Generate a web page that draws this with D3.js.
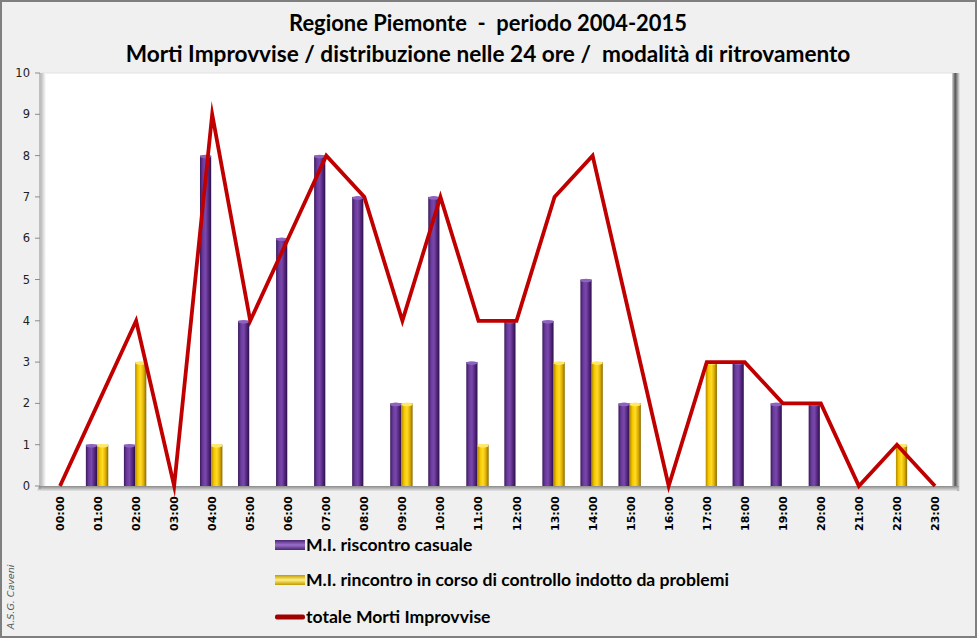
<!DOCTYPE html>
<html><head><meta charset="utf-8">
<script src="https://cdn.jsdelivr.net/npm/d3@7"></script>
<style>html,body{margin:0;padding:0;background:#fff;}svg{display:block;}</style>
</head><body>
<svg id="c" width="977" height="638"></svg>
<script>
const hours = ["00:00","01:00","02:00","03:00","04:00","05:00","06:00","07:00","08:00","09:00","10:00","11:00","12:00","13:00","14:00","15:00","16:00","17:00","18:00","19:00","20:00","21:00","22:00","23:00"];
const casuale = [0,1,1,0,8,4,6,8,7,2,7,3,4,4,5,2,0,0,3,2,2,0,0,0];
const controllo = [0,1,3,0,1,0,0,0,0,2,0,1,0,3,3,2,0,3,0,0,0,0,1,0];
const totale = [0,2,4,0,9,4,6,8,7,4,7,4,4,7,8,4,0,3,3,2,2,0,1,0];
const yTicks = [0,1,2,3,4,5,6,7,8,9,10];
const titles = ["Regione Piemonte  -  periodo 2004-2015","Morti Improvvise / distribuzione nelle 24 ore /  modalità di ritrovamento"];
const legendLabels = ["M.I. riscontro casuale","M.I. rincontro in corso di controllo indotto da problemi","totale Morti Improvvise"];
const credit = "A.S.G. Caveni";

const svg = d3.select("#c");
const W = 977, H = 638;
const FONT = "Lato, 'Open Sans', sans-serif";
const defs = svg.append("defs");

function cyl(id, stops){
  const g = defs.append("linearGradient").attr("id", id).attr("x1","0%").attr("x2","100%").attr("y1","0%").attr("y2","0%");
  stops.forEach(s => g.append("stop").attr("offset", s[0]).attr("stop-color", s[1]));
}
cyl("gP", [["0%","#3a1a5c"],["25%","#6a3a9c"],["50%","#7a48ad"],["75%","#55287f"],["100%","#2c1048"]]);
cyl("gY", [["0%","#b08a00"],["25%","#f5c800"],["50%","#ffdc2a"],["75%","#e0b000"],["100%","#8a6a00"]]);
cyl("gRW", [["0%","#d8d8d8"],["40%","#555"],["100%","#efefef"]]);
cyl("gLW", [["0%","#bdbdbd"],["100%","#ffffff"]]);
const gF = defs.append("linearGradient").attr("id","gF").attr("x1","0%").attr("x2","0%").attr("y1","0%").attr("y2","100%");
gF.append("stop").attr("offset","0%").attr("stop-color","#8a8a8a");
gF.append("stop").attr("offset","100%").attr("stop-color","#e6e6e6");

// background + border
svg.append("rect").attr("x",1).attr("y",1).attr("width",W-2).attr("height",H-2)
  .attr("fill","#f0f0f0").attr("stroke","#7f7f7f").attr("stroke-width",2);

const x = d3.scaleBand().domain(hours).range([41, 954]).paddingInner(0).paddingOuter(0);
const y = d3.scaleLinear().domain([0,10]).range([486, 73]);
const cx = h => x(h) + x.bandwidth()/2;

// plot area
const px0 = 41, px1 = 953, py0 = 73, py1 = 486;
svg.append("rect").attr("x",px0).attr("y",py0).attr("width",px1-px0).attr("height",py1-py0).attr("fill","#fff");
svg.append("line").attr("x1",px0).attr("x2",px1).attr("y1",py0).attr("y2",py0).attr("stroke","#e2e2e2");
svg.append("rect").attr("x",px0).attr("y",py0).attr("width",5).attr("height",py1-py0).attr("fill","url(#gLW)");
svg.append("rect").attr("x",px1-1).attr("y",py0).attr("width",8).attr("height",py1-py0+5).attr("fill","url(#gRW)");
svg.append("path").attr("d",`M${px0-2},${py1} L${px1+6},${py1} L${px1+4},${py1+5} L${px0-4},${py1+5} Z`).attr("fill","url(#gF)");

// y axis
svg.append("line").attr("x1",px0-1).attr("x2",px0-1).attr("y1",py0).attr("y2",py1+3).attr("stroke","#8c8c8c");
const yg = svg.append("g");
yTicks.forEach(t => {
  yg.append("line").attr("x1",px0-6).attr("x2",px0-1).attr("y1",y(t)).attr("y2",y(t)).attr("stroke","#8c8c8c");
  yg.append("text").attr("x",px0-11).attr("y",y(t)).attr("dy","0.35em").attr("text-anchor","end")
    .attr("font-family","'DejaVu Sans', sans-serif").attr("font-size",11.5).attr("fill","#222").text(t);
});

// x labels
hours.forEach(h => {
  svg.append("text").attr("transform",`translate(${cx(h)+4},496) rotate(-90)`).attr("text-anchor","end")
    .attr("font-family","'DejaVu Sans', sans-serif").attr("font-weight","bold").attr("font-size",11).attr("fill","#000").text(h);
});

// bars
const bw = 11.2;
function bars(vals, grad, top, off){
  vals.forEach((v,i) => {
    if (v <= 0) return;
    const xx = cx(hours[i]) + off;
    svg.append("rect").attr("x",xx).attr("y",y(v)).attr("width",bw).attr("height",y(0)-y(v)).attr("fill",`url(#${grad})`);
    svg.append("ellipse").attr("cx",xx+bw/2).attr("cy",y(v)+1).attr("rx",bw/2).attr("ry",1.8).attr("fill",top);
  });
}
bars(casuale, "gP", "#8d62c0", -12.2);
bars(controllo, "gY", "#ffe866", -1);

// line
const line = d3.line().x((d,i)=>cx(hours[i])).y(d=>y(d));
svg.append("path").datum(totale).attr("d",line).attr("fill","none").attr("stroke","#c00000")
  .attr("stroke-width",3.8).attr("stroke-linejoin","miter").attr("stroke-miterlimit",10);

// titles
function fitText(sel, target){
  const w = sel.node().getComputedTextLength();
  const fs = parseFloat(sel.attr("font-size"));
  sel.attr("font-size", fs*target/w);
}
const t1 = svg.append("text").attr("x",488).attr("y",31).attr("text-anchor","middle").attr("font-family",FONT)
  .attr("font-weight","bold").attr("font-size",20).attr("fill","#000").style("white-space","pre").text(titles[0]);
fitText(t1, 398);
const t2 = svg.append("text").attr("x",488).attr("y",62).attr("text-anchor","middle").attr("font-family",FONT)
  .attr("font-weight","bold").attr("font-size",20).attr("fill","#000").style("white-space","pre").text(titles[1]);
fitText(t2, 725);

// legend
const lg = svg.append("g");
const ly = [545, 580, 617];
[0,1].forEach(i => {
  const g = defs.append("linearGradient").attr("id","ls"+i).attr("x1","0%").attr("x2","0%").attr("y1","0%").attr("y2","100%");
  const c = i===0 ? ["#4a2470","#9a70cc","#4a2470"] : ["#c09a00","#fff080","#c09a00"];
  g.append("stop").attr("offset","0%").attr("stop-color",c[0]);
  g.append("stop").attr("offset","50%").attr("stop-color",c[1]);
  g.append("stop").attr("offset","100%").attr("stop-color",c[2]);
  lg.append("rect").attr("x",275).attr("y",ly[i]-5).attr("width",30).attr("height",10).attr("fill",`url(#ls${i})`);
});
lg.append("rect").attr("x",275).attr("y",ly[2]-2.5).attr("width",30).attr("height",5).attr("rx",2).attr("fill","#a00000");
const lt = legendLabels.map((l,i) => lg.append("text").attr("x",306).attr("y",ly[i]).attr("dy","0.35em")
  .attr("font-family",FONT).attr("font-weight","bold").attr("font-size",16).attr("fill","#000").text(l));
fitText(lt[1], 423);
const fsL = lt[1].attr("font-size");
lt[0].attr("font-size", fsL); lt[2].attr("font-size", fsL);

// credit
svg.append("text").attr("transform","translate(14,597) rotate(-90)").attr("text-anchor","middle")
  .attr("font-family","'DejaVu Sans', sans-serif").attr("font-style","italic").attr("font-size",9.5).attr("fill","#555").text(credit);
</script>
</body></html>
